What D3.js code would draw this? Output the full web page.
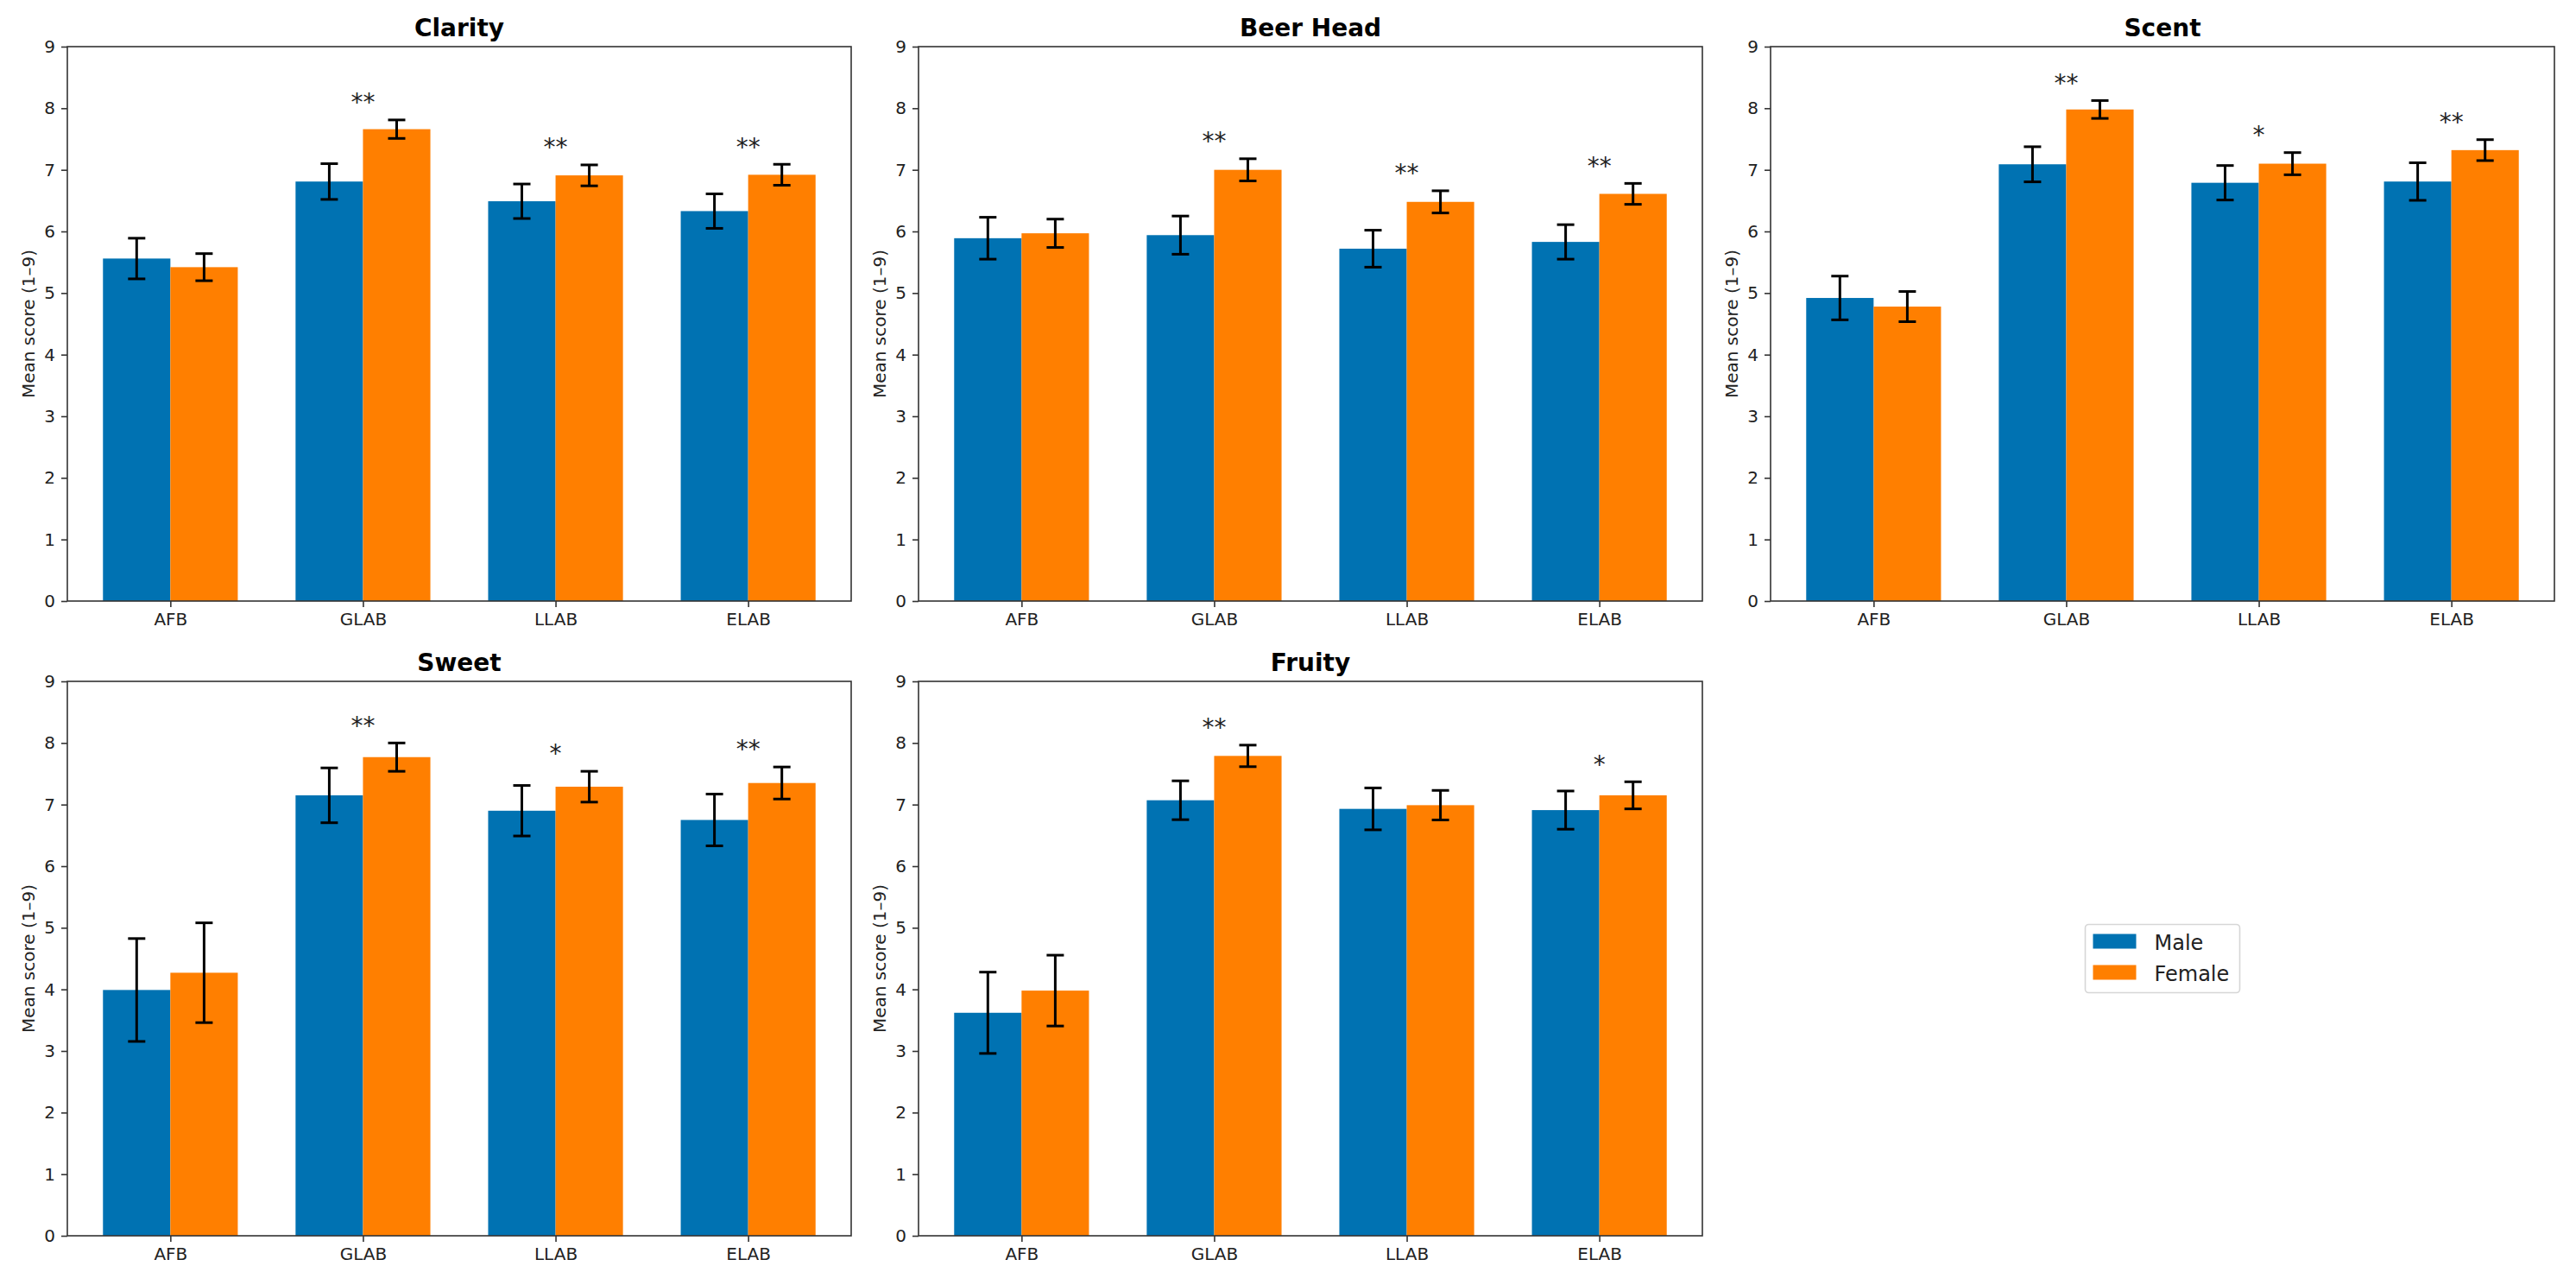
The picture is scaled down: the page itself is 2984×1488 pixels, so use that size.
<!DOCTYPE html>
<html>
<head>
<meta charset="utf-8">
<script src="https://cdn.jsdelivr.net/npm/d3@7"></script>
<style>
  html, body { margin: 0; padding: 0; background: #ffffff; }
  svg { display: block; }
  text { font-family: "DejaVu Sans", sans-serif; }
</style>
</head>
<body>
<script>
// ---------- data ----------
const categories = ["AFB", "GLAB", "LLAB", "ELAB"];
const attributes = ["Clarity", "Beer Head", "Scent", "Sweet", "Fruity"];
const seriesNames = ["Male", "Female"];

const maleMeans = [
  [5.56, 6.81, 6.49, 6.33],
  [5.89, 5.94, 5.72, 5.83],
  [4.92, 7.09, 6.79, 6.81],
  [3.99, 7.15, 6.90, 6.75],
  [3.62, 7.07, 6.93, 6.91]
];
const maleSE = [
  [0.33, 0.29, 0.28, 0.28],
  [0.34, 0.31, 0.30, 0.28],
  [0.355, 0.285, 0.28, 0.305],
  [0.835, 0.445, 0.41, 0.42],
  [0.66, 0.315, 0.34, 0.31]
];
const femaleMeans = [
  [5.42, 7.66, 6.91, 6.92],
  [5.97, 7.00, 6.48, 6.61],
  [4.78, 7.98, 7.10, 7.32],
  [4.27, 7.77, 7.29, 7.35],
  [3.98, 7.79, 6.99, 7.15]
];
const femaleSE = [
  [0.22, 0.15, 0.17, 0.17],
  [0.23, 0.18, 0.18, 0.17],
  [0.245, 0.145, 0.18, 0.17],
  [0.81, 0.23, 0.25, 0.26],
  [0.575, 0.175, 0.24, 0.22]
];
const significance = [
  ["", "**", "**", "**"],
  ["", "**", "**", "**"],
  ["", "**", "*", "**"],
  ["", "**", "*", "**"],
  ["", "**", "", "*"]
];
const yTicks = [0, 1, 2, 3, 4, 5, 6, 7, 8, 9];
const yLabel = "Mean score (1\u20139)";

// ---------- layout / style ----------
const W = 2984, H = 1488;
const colLefts = [78, 1064, 2051];
const rowTops = [54, 789];
const pw = 908, ph = 642;
const barW = 0.35;
const colors = ["#0072B2", "#FF7F00"];
const textColor = "#222";
const spineColor = "#333";

const svg = d3.select("body").append("svg")
  .attr("width", W).attr("height", H)
  .attr("viewBox", `0 0 ${W} ${H}`);
svg.append("rect").attr("width", W).attr("height", H).attr("fill", "#fff");

const xmin = -barW, xmax = categories.length - 1 + barW;
const xm = (xmax - xmin) * 0.05;
const x = d3.scaleLinear().domain([xmin - xm, xmax + xm]).range([0, pw]);
const y = d3.scaleLinear().domain([0, 9]).range([ph, 0]);

attributes.forEach((attr, p) => {
  const col = p % 3, row = Math.floor(p / 3);
  const g = svg.append("g")
    .attr("transform", `translate(${colLefts[col]},${rowTops[row]})`);

  const series = [
    { means: maleMeans[p], se: maleSE[p], off: -barW / 2, color: colors[0] },
    { means: femaleMeans[p], se: femaleSE[p], off: barW / 2, color: colors[1] }
  ];

  // bars
  series.forEach(s => {
    g.selectAll(null).data(s.means).enter().append("rect")
      .attr("x", (d, i) => x(i + s.off - barW / 2))
      .attr("width", (d, i) => x(i + s.off + barW / 2) - x(i + s.off - barW / 2))
      .attr("y", d => y(d))
      .attr("height", d => y(0) - y(d))
      .attr("fill", s.color);
  });

  // error bars
  series.forEach(s => {
    const eg = g.selectAll(null).data(s.means).enter().append("g")
      .attr("stroke", "#000").attr("stroke-width", 3);
    eg.append("line")
      .attr("x1", (d, i) => x(i + s.off)).attr("x2", (d, i) => x(i + s.off))
      .attr("y1", (d, i) => y(d + s.se[i])).attr("y2", (d, i) => y(d - s.se[i]));
    eg.append("line")
      .attr("x1", (d, i) => x(i + s.off) - 10).attr("x2", (d, i) => x(i + s.off) + 10)
      .attr("y1", (d, i) => y(d + s.se[i])).attr("y2", (d, i) => y(d + s.se[i]));
    eg.append("line")
      .attr("x1", (d, i) => x(i + s.off) - 10).attr("x2", (d, i) => x(i + s.off) + 10)
      .attr("y1", (d, i) => y(d - s.se[i])).attr("y2", (d, i) => y(d - s.se[i]));
  });

  // significance stars
  significance[p].forEach((d, i) => {
    if (!d) return;
    const top = Math.max(maleMeans[p][i] + maleSE[p][i], femaleMeans[p][i] + femaleSE[p][i]);
    g.append("text")
      .attr("x", x(i))
      .attr("y", y(top + 0.15))
      .attr("text-anchor", "middle")
      .attr("font-size", 28)
      .attr("fill", textColor)
      .text(d);
  });

  // y axis
  const yAxis = d3.axisLeft(y).tickValues(yTicks).tickSize(7).tickPadding(7).tickFormat(d3.format("d"));
  const ya = g.append("g").call(yAxis);
  ya.select(".domain").remove();
  ya.selectAll("line").attr("stroke", spineColor).attr("stroke-width", 1.6);
  ya.selectAll("text").attr("font-size", 20).attr("fill", textColor)
    .attr("font-family", "DejaVu Sans, sans-serif");

  // x axis
  const xAxis = d3.axisBottom(x).tickValues(d3.range(categories.length))
    .tickSize(7).tickPadding(7).tickFormat(i => categories[i]);
  const xa = g.append("g").attr("transform", `translate(0,${ph})`).call(xAxis);
  xa.select(".domain").remove();
  xa.selectAll("line").attr("stroke", spineColor).attr("stroke-width", 1.6);
  xa.selectAll("text").attr("font-size", 20).attr("fill", textColor)
    .attr("font-family", "DejaVu Sans, sans-serif");

  // spines (full box)
  g.append("rect").attr("x", 0).attr("y", 0).attr("width", pw).attr("height", ph)
    .attr("fill", "none").attr("stroke", spineColor).attr("stroke-width", 1.6);

  // title
  g.append("text").attr("x", pw / 2).attr("y", -12)
    .attr("text-anchor", "middle").attr("font-size", 28).attr("font-weight", "bold")
    .attr("fill", "#000").text(attr);

  // y label
  g.append("text")
    .attr("transform", `translate(-38,${ph / 2}) rotate(-90)`)
    .attr("text-anchor", "middle").attr("font-size", 20)
    .attr("fill", textColor).text(yLabel);
});

// legend (centered in the empty sixth slot)
const lg = svg.append("g").attr("transform", `translate(${colLefts[2] + pw / 2},${rowTops[1] + ph / 2})`);
const lw = 179, lh = 79;
lg.append("rect").attr("x", -lw / 2).attr("y", -lh / 2).attr("width", lw).attr("height", lh)
  .attr("rx", 4).attr("fill", "#fff").attr("stroke", "#d6d6d6").attr("stroke-width", 1.6);
seriesNames.forEach((name, k) => {
  lg.append("rect").attr("x", -lw / 2 + 9).attr("y", -lh / 2 + 11 + k * 36)
    .attr("width", 50).attr("height", 17).attr("fill", colors[k]);
  lg.append("text").attr("x", -lw / 2 + 80).attr("y", -lh / 2 + 29 + k * 36)
    .attr("font-size", 24).attr("fill", textColor).text(name);
});
</script>
</body>
</html>
